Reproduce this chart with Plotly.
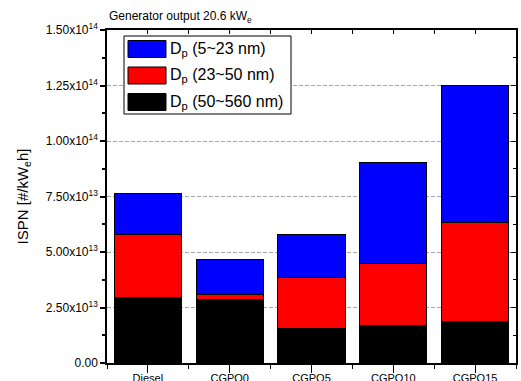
import plotly.graph_objects as go

categories = ["Diesel", "CGPO0", "CGPO5", "CGPO10", "CGPO15"]
series_names = ["D<sub>p</sub> (50~560 nm)", "D<sub>p</sub> (23~50 nm)", "D<sub>p</sub> (5~23 nm)"]
series_colors = ["#000000", "#ff0000", "#0000ff"]
# stacked segment values (ISPN, #/kWe h)
black_vals = [2.93e13, 2.84e13, 1.57e13, 1.67e13, 1.87e13]
red_vals = [2.86e13, 0.25e13, 2.27e13, 2.82e13, 4.48e13]
blue_vals = [1.86e13, 1.59e13, 1.96e13, 4.53e13, 6.15e13]
y_tickvals = [0, 2.5e13, 5.0e13, 7.5e13, 1.0e14, 1.25e14, 1.5e14]

def sci_label(v):
    if v == 0:
        return "0.00"
    exp = 0
    m = v
    while m >= 10:
        m /= 10
        exp += 1
    return f"{m:.2f}x10<sup>{exp}</sup>"

y_ticktext = [sci_label(v) for v in y_tickvals]

W, H = 521, 381
L, R, T, B = 107, 516, 30, 363

def px(x):
    return (x - L) / (R - L)

def py(y):
    return (B - y) / (B - T)

FONT = "Liberation Sans, Arial, sans-serif"
xs = list(range(len(categories)))

fig = go.Figure()
for name, color, vals in zip(series_names, series_colors, [black_vals, red_vals, blue_vals]):
    fig.add_trace(go.Bar(x=xs, y=vals, name=name, width=0.82,
                         marker=dict(color=color, line=dict(color="#000000", width=1)),
                         showlegend=False))
# invisible trace to realise the mirror axes
fig.add_trace(go.Scatter(x=[0], y=[0], xaxis="x2", yaxis="y2", mode="markers",
                         marker=dict(opacity=0), showlegend=False, hoverinfo="skip"))

fig.update_layout(
    width=W, height=H,
    margin=dict(l=L, r=W - R, t=T, b=H - B),
    paper_bgcolor="white", plot_bgcolor="white",
    barmode="stack", bargap=0.18,
    font=dict(family=FONT, color="#000000"),
    xaxis=dict(range=[-0.5, len(categories) - 0.5], tickvals=xs, ticktext=categories,
               ticks="outside", ticklen=8, tickwidth=1, tickcolor="#000",
               minor=dict(dtick=1, tick0=-0.5, ticks="outside", ticklen=4, tickcolor="#000"),
               showline=True, linecolor="#000", linewidth=1.5, mirror=True,
               showgrid=False, zeroline=False, automargin=False,
               tickfont=dict(size=11, family=FONT), ticklabelstandoff=-4),
    yaxis=dict(range=[0, 1.5e14], tickvals=y_tickvals, ticktext=y_ticktext,
               ticks="outside", ticklen=5, tickwidth=1.5, tickcolor="#000",
               minor=dict(dtick=1.25e13, ticks="outside", ticklen=3, tickcolor="#000", showgrid=False),
               showline=True, linecolor="#000", linewidth=1.5, mirror=True,
               showgrid=True, gridcolor="#a8a8a8", griddash="4px,2px", gridwidth=1,
               zeroline=False, automargin=False,
               tickfont=dict(size=12, family=FONT),
               title=dict(text="ISPN [#/kW<sub>e</sub>h]", font=dict(size=15, family=FONT), standoff=14)),
    xaxis2=dict(overlaying="x", side="top", range=[-0.5, len(categories) - 0.5],
                tickvals=xs, showticklabels=False, ticks="inside", ticklen=4, tickcolor="#000",
                minor=dict(dtick=1, tick0=-0.5, ticks="inside", ticklen=4, tickcolor="#000"),
                showgrid=False, zeroline=False, showline=False, automargin=False),
    yaxis2=dict(overlaying="y", side="right", range=[0, 1.5e14], tickvals=y_tickvals,
                showticklabels=False, ticks="inside", ticklen=5, tickcolor="#000",
                minor=dict(dtick=1.25e13, ticks="inside", ticklen=3, tickcolor="#000"),
                showgrid=False, zeroline=False, showline=False, automargin=False),
)

# title
fig.add_annotation(text="Generator output 20.6 kW<sub>e</sub>", xref="paper", yref="paper",
                   x=px(107), y=py(17), xanchor="left", yanchor="middle", showarrow=False,
                   font=dict(size=12, family=FONT))

# custom legend
fig.add_shape(type="rect", xref="paper", yref="paper", x0=px(124), x1=px(291), y0=py(36), y1=py(114),
              line=dict(color="#000", width=1), fillcolor="white", layer="above")
rows_y = [49, 75.5, 102]
order = [2, 1, 0]
for ry, idx in zip(rows_y, order):
    fig.add_shape(type="rect", xref="paper", yref="paper", x0=px(128), x1=px(166),
                  y0=py(ry - 8.5), y1=py(ry + 8.5), line=dict(color="#000", width=1),
                  fillcolor=series_colors[idx], layer="above")
    fig.add_annotation(text=series_names[idx], xref="paper", yref="paper", x=px(168), y=py(ry),
                       xanchor="left", yanchor="middle", showarrow=False,
                       font=dict(size=16, family=FONT))

fig.write_html("out.html")
